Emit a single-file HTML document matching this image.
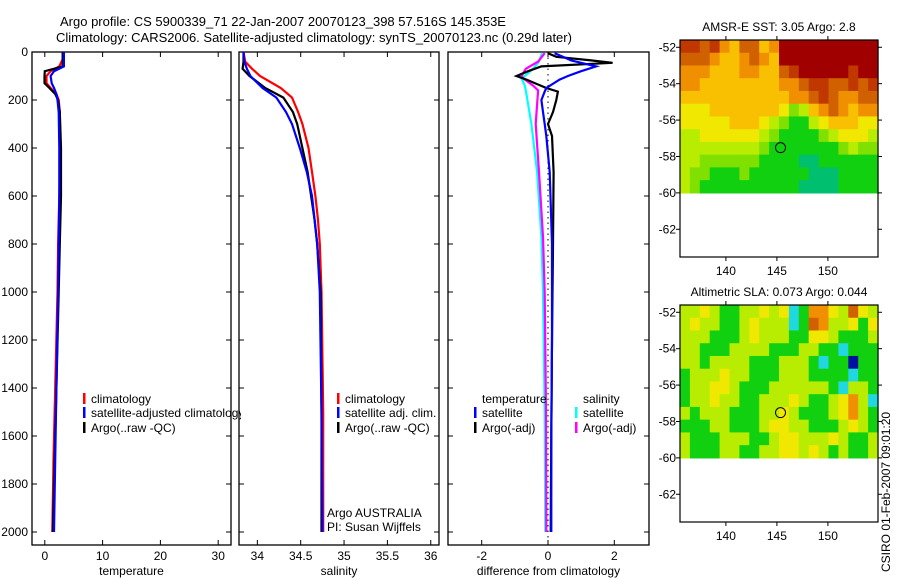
<!DOCTYPE html>
<html><head><meta charset="utf-8">
<style>
html,body{margin:0;padding:0;background:#fff;}
svg{display:block;font-family:"Liberation Sans",sans-serif;}
text{font-size:12px;fill:#000;}
</style></head>
<body>
<svg id="fig" width="900" height="580" viewBox="0 0 900 580">
<text x="60" y="26" style="font-size:13px">Argo profile: CS 5900339_71 22-Jan-2007 20070123_398 57.516S 145.353E</text>
<text x="56" y="42" style="font-size:13px">Climatology: CARS2006. Satellite-adjusted climatology: synTS_20070123.nc (0.29d later)</text>
<g id="g1"></g>
<g id="g2"></g>
<g id="g3"></g>
<g id="m1"></g>
<g id="m2"></g>
<text transform="translate(890,572) rotate(-90)">CSIRO 01-Feb-2007 09:01:20</text>
</svg>
<script>
// ---- profile data (depth in dbar) ----
const tempDepth = [0, 30, 60, 80, 100, 130, 150, 175, 200, 250, 400, 600, 800, 1000, 1400, 1700, 2000];
const tempClim  = [3.1, 3.1, 2.5, 1.0, 0.3, 0.3, 1.0, 2.0, 2.4, 2.6, 2.7, 2.5, 2.3, 2.2, 1.8, 1.5, 1.3];
const tempArgo  = [3.1, 3.1, 3.1, 0.0, -0.05, -0.05, 0.8, 1.8, 2.3, 2.6, 2.8, 2.8, 2.6, 2.4, 2.0, 1.7, 1.4];
const tempSat   = [3.3, 3.3, 3.3, 1.6, 1.0, 1.2, 1.6, 2.0, 2.2, 2.4, 2.5, 2.5, 2.4, 2.3, 2.0, 1.8, 1.6];

const salDepth = [0, 40, 70, 100, 150, 190, 250, 300, 400, 500, 600, 700, 800, 1000, 1500, 2000];
const salClim  = [33.84, 33.86, 33.94, 34.03, 34.27, 34.40, 34.47, 34.52, 34.59, 34.63, 34.67, 34.70, 34.72, 34.74, 34.76, 34.76];
const salArgo  = [33.84, 33.84, 33.83, 33.91, 34.09, 34.30, 34.41, 34.46, 34.52, 34.58, 34.62, 34.66, 34.69, 34.73, 34.74, 34.74];
const salSat   = [33.84, 33.85, 33.88, 33.92, 34.06, 34.22, 34.33, 34.40, 34.49, 34.57, 34.63, 34.66, 34.69, 34.72, 34.74, 34.75];

const dTDepth  = [5, 20, 35, 45, 60, 80, 100, 115, 150, 165, 200, 250, 300, 350, 500, 800, 1200, 1600, 2000];
const dTArgo   = [0.0, 0.25, 1.3, 1.95, -0.2, -0.6, -0.95, -0.65, -0.05, 0.3, 0.25, 0.15, 0.0, 0.12, 0.17, 0.15, 0.12, 0.1, 0.08];
const dTSat    = [0.2, 0.45, 0.7, 1.0, 1.45, 1.0, 0.6, 0.35, -0.05, -0.1, -0.2, -0.15, -0.1, -0.05, 0.05, 0.12, 0.12, 0.1, 0.1];
const dSDepth  = [5, 40, 70, 100, 110, 140, 160, 300, 500, 770, 1000, 1500, 2000];
const dSSat    = [-0.18, -0.27, -0.45, -0.7, -0.8, -0.7, -0.67, -0.5, -0.33, -0.2, -0.15, -0.1, -0.08];
const dSArgo   = [-0.1, -0.3, -0.67, -0.8, -0.75, -0.45, -0.3, -0.37, -0.27, -0.15, -0.1, -0.06, -0.05];

const depthTicks = [0, 200, 400, 600, 800, 1000, 1200, 1400, 1600, 1800, 2000];
const tempTicks = [0, 10, 20, 30];
const salTicks = [34, 34.5, 35, 35.5, 36];
const salTickLabels = ["34", "34.5", "35", "35.5", "36"];
const diffTicks = [-2, 0, 2];

// ---- maps: colour level grids (rows north->south) ----
const sstGrid = [
"88786577569999999999",
"77765567659999999999",
"66655566557899999899",
"66555555556678877878",
"55555555555667876677",
"44455555554235676566",
"44444555432113455544",
"33444444321111234443",
"33333333211111112322",
"33222222111100111111",
"32211121111110001111",
"32111111111100001111"];
const slaGrid = [
"33431133434c16643743",
"34331134333c17633414",
"33311134333114431113",
"3311133331113311c111",
"33133331113331c11B11",
"13334331113331111c11",
"1334431113333331c331",
"1334331133343113463c",
"31333111334311134631",
"11133111344331113431",
"31113331134433343113",
"31113311334434313113"];
const mapLonTicks = [140, 145, 150];
const mapLatTicks = [-52, -54, -56, -58, -60, -62];
const floatLon = 145.353, floatLat = -57.516;

const NS = "http://www.w3.org/2000/svg";
function mk(tag, attrs, parent){const e=document.createElementNS(NS,tag);for(const k in attrs)e.setAttribute(k,attrs[k]);parent.appendChild(e);return e;}
function txt(parent,x,y,s,anchor){const t=mk("text",{x:x,y:y,"text-anchor":anchor||"start"},parent);t.textContent=s;return t;}

const TOP=52, BOT=545;
const yD = d => TOP + d*0.24;

function panel(g, L, R, xs, xticks, xlabels, xtitle, showY){
  const fr = mk("rect",{x:L,y:TOP,width:R-L,height:BOT-TOP,fill:"none",stroke:"#000","stroke-width":1.3},g);
  
  
  depthTicks.forEach(d=>{
    mk("line",{x1:L,x2:L+5,y1:yD(d),y2:yD(d),stroke:"#000"},g);
    mk("line",{x1:R-5,x2:R,y1:yD(d),y2:yD(d),stroke:"#000"},g);
    if(showY){const t=txt(g,L-4,yD(d)+4,String(d),"end");
      
      }
  });
  xticks.forEach((v,i)=>{
    const x=xs(v);
    mk("line",{x1:x,x2:x,y1:BOT,y2:BOT-5,stroke:"#000"},g);
    mk("line",{x1:x,x2:x,y1:TOP,y2:TOP+5,stroke:"#000"},g);
    const t=txt(g,x,BOT+15,xlabels[i],"middle");
    
    
  });
  const tt=txt(g,(L+R)/2,BOT+30,xtitle,"middle");
  
  
}
function line(g, xs, vals, depths, color, name, w){
  const pts = vals.map((v,i)=>xs(v).toFixed(1)+","+yD(depths[i]).toFixed(1)).join(" ");
  const p = mk("polyline",{points:pts,fill:"none",stroke:color,"stroke-width":w||2.2,"stroke-linejoin":"miter"},g);
  
  
}
function legend(g, x, y, color, label, clipW){
  if(color){const b=mk("rect",{x:x,y:y-10,width:2.5,height:11,fill:color},g);
    
    }
  const t=txt(g,x+8,y,label);
  
  
  if(clipW){t.setAttribute('clip-path','url(#c1)');}
}

const g1=document.getElementById("g1");
const xT = v => 44.8 + v*5.78;
panel(g1,32,231,xT,tempTicks,tempTicks.map(String),"temperature",true);
line(g1,xT,tempClim,tempDepth,"#f00","climatology-temp-line");
line(g1,xT,tempArgo,tempDepth,"#000","argo-temp-line");
line(g1,xT,tempSat,tempDepth,"#00f","satellite-temp-line");
const defs=mk("defs",{},document.getElementById("fig"));
const cp=mk("clipPath",{id:"c1"},defs); mk("rect",{x:0,y:0,width:241,height:580},cp);
legend(g1,83,403,"#f00","climatology");
legend(g1,83,417,"#00f","satellite-adjusted climatology",true);
legend(g1,83,432,"#000","Argo(..raw -QC)");

const g2=document.getElementById("g2");
const xS = v => 300.7 + (v-34.5)*86.7;
panel(g2,239,439,xS,salTicks,salTickLabels,"salinity",false);
line(g2,xS,salClim,salDepth,"#f00","climatology-sal-line");
line(g2,xS,salArgo,salDepth,"#000","argo-sal-line");
line(g2,xS,salSat,salDepth,"#00f","satellite-sal-line");
legend(g2,337,403,"#f00","climatology");
legend(g2,337,417,"#00f","satellite adj. clim.");
legend(g2,337,432,"#000","Argo(..raw -QC)");
const a1=txt(g2,327,517,"Argo AUSTRALIA");  
const a2=txt(g2,327,531,"PI: Susan Wijffels");  

const g3=document.getElementById("g3");
const xDf = v => 548 + v*33.15;
panel(g3,448,649,xDf,diffTicks,diffTicks.map(String),"difference from climatology",false);
const zl=mk("line",{x1:xDf(0),x2:xDf(0),y1:TOP,y2:BOT,stroke:"#000","stroke-dasharray":"1.5,4"},g3);
 
line(g3,xDf,dSSat,dSDepth,"#0ff","salinity-satellite-diff-line");
line(g3,xDf,dSArgo,dSDepth,"#f0f","salinity-argo-diff-line");
line(g3,xDf,dTArgo,dTDepth,"#000","temperature-argo-diff-line");
line(g3,xDf,dTSat,dTDepth,"#00f","temperature-satellite-diff-line");
legend(g3,474,403,null,"temperature");
legend(g3,474,417,"#00f","satellite");
legend(g3,474,432,"#000","Argo(-adj)");
legend(g3,575,403,null,"salinity");
legend(g3,575,417,"#0ff","satellite");
legend(g3,575,432,"#f0f","Argo(-adj)");

const palette = {"0":"#00c070","1":"#10d010","2":"#80e000","3":"#b8ec00","4":"#f0e800","5":"#f8c000","6":"#f09000","7":"#d06000","8":"#c03800","9":"#a00000","c":"#20d8e0","b":"#0070ff","B":"#0010a0"};
function drawMap(g, top, grid, title){
  const L=680,R=878,H=217, latTop = -51.6, latPer = 18.2, lonL=135.5, lonPer=10.2;
  const yL = la => top + (latTop-la)*latPer;
  const xL = lo => L + (lo-lonL)*lonPer;
  const rows=grid.length, cols=20;
  const cw=(R-L)/cols, rh=(yL(-60)-top)/rows;
  grid.forEach((row,r)=>{
    for(let c=0;c<cols;c++){
      const ch=row[c]||"1";
      const cell=mk("rect",{x:(L+c*cw).toFixed(2),y:(top+r*rh).toFixed(2),width:(cw+0.6).toFixed(2),height:(rh+0.6).toFixed(2),fill:palette[ch]},g);
      
      
    }
  });
  const fr=mk("rect",{x:L,y:top,width:R-L,height:H,fill:"none",stroke:"#000","stroke-width":1.2},g);
   
  mapLatTicks.forEach(la=>{
    const y=yL(la);
    mk("line",{x1:L-4,x2:L,y1:y,y2:y,stroke:"#000"},g);
    mk("line",{x1:R,x2:R+4,y1:y,y2:y,stroke:"#000"},g);
    const t=txt(g,L-4,y+4,String(la),"end");
     
  });
  mapLonTicks.forEach(lo=>{
    const x=xL(lo);
    mk("line",{x1:x,x2:x,y1:top+H,y2:top+H+4,stroke:"#000"},g);
    mk("line",{x1:x,x2:x,y1:top-4,y2:top,stroke:"#000"},g);
    const t=txt(g,x,top+H+18,String(lo),"middle");
     
  });
  const m=mk("circle",{cx:xL(floatLon),cy:yL(floatLat),r:5,fill:"none",stroke:"#000","stroke-width":1},g);
   
  const t=txt(g,(L+R)/2,top-9,title,"middle");
   
}
drawMap(document.getElementById("m1"),40,sstGrid,"AMSR-E SST: 3.05 Argo: 2.8");
drawMap(document.getElementById("m2"),305,slaGrid,"Altimetric SLA: 0.073 Argo: 0.044");
</script>
</body></html>
